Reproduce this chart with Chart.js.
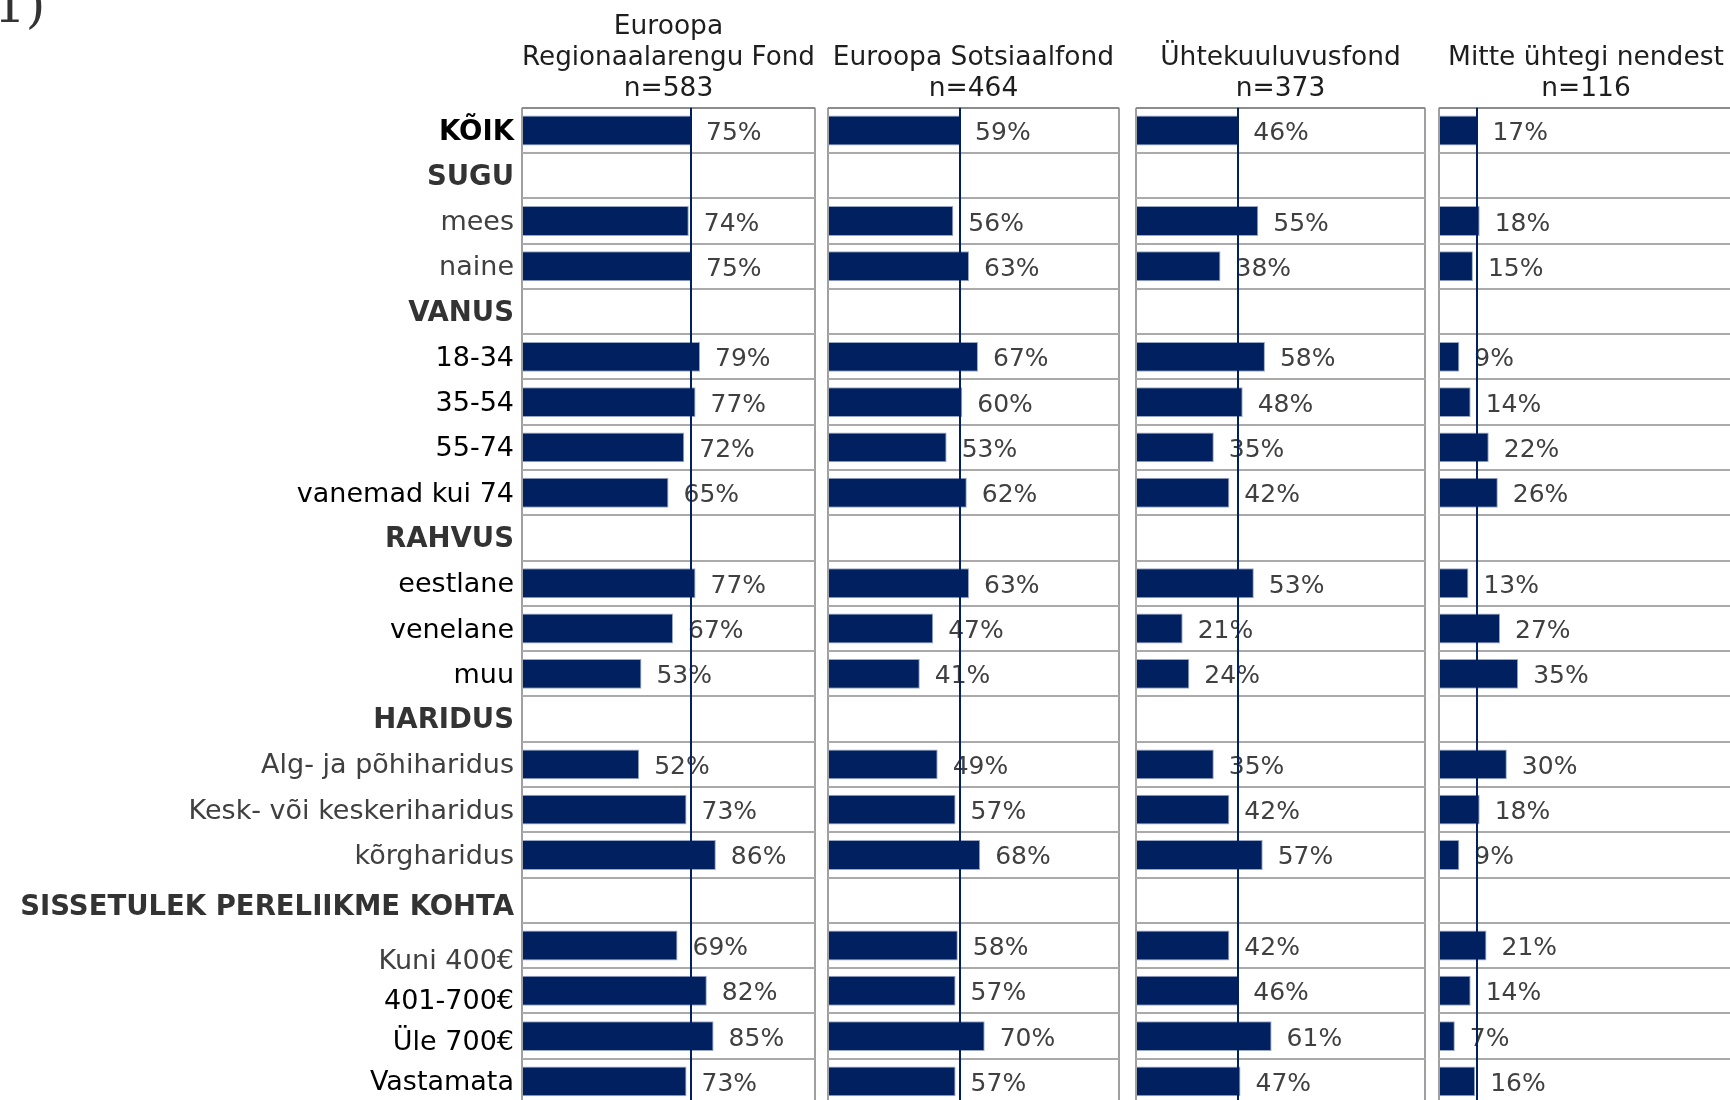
<!DOCTYPE html>
<html>
<head>
<meta charset="utf-8">
<script src="https://cdn.jsdelivr.net/npm/chart.js@4.4.0/dist/chart.umd.min.js"></script>
<style>
    html, body {margin: 0; padding: 0; background: #fff; overflow: hidden; width: 1730px; height: 1100px;}
    canvas {position: absolute; top: 0;}
    #corner {position: absolute; left: -6px; top: -20px; font-family: 'DejaVu Serif', serif; font-size: 50px; line-height: 50px; color: #333;}
</style>
</head>
<body>
<div id="corner">1)</div>
<canvas id="panel-0" width="817" height="1104" style="left:0px"></canvas>
<canvas id="panel-1" width="295" height="1104" style="left:826px"></canvas>
<canvas id="panel-2" width="293" height="1104" style="left:1134px"></canvas>
<canvas id="panel-3" width="298" height="1104" style="left:1437px"></canvas>
<script>
const rowLabels = ['KÕIK', 'SUGU', 'mees', 'naine', 'VANUS', '18-34', '35-54', '55-74', 'vanemad kui 74',
    'RAHVUS', 'eestlane', 'venelane', 'muu', 'HARIDUS', 'Alg- ja põhiharidus', 'Kesk- või keskeriharidus',
    'kõrgharidus', 'SISSETULEK PERELIIKME KOHTA', 'Kuni 400€', '401-700€', 'Üle 700€', 'Vastamata'];
const groupLabels = ['SUGU', 'VANUS', 'RAHVUS', 'HARIDUS', 'SISSETULEK PERELIIKME KOHTA'];

const fundTitles = [
    ['Euroopa', 'Regionaalarengu Fond', 'n=583'],
    ['', 'Euroopa Sotsiaalfond', 'n=464'],
    ['', 'Ühtekuuluvusfond', 'n=373'],
    ['', 'Mitte ühtegi nendest', 'n=116']
];

const regionalFund = [75, null, 74, 75, null, 79, 77, 72, 65, null, 77, 67, 53, null, 52, 73, 86, null, 69, 82, 85, 73];
const socialFund = [59, null, 56, 63, null, 67, 60, 53, 62, null, 63, 47, 41, null, 49, 57, 68, null, 58, 57, 70, 57];
const cohesionFund = [46, null, 55, 38, null, 58, 48, 35, 42, null, 53, 21, 24, null, 35, 42, 57, null, 42, 46, 61, 47];
const noneOfThem = [17, null, 18, 15, null, 9, 14, 22, 26, null, 13, 27, 35, null, 30, 18, 9, null, 21, 14, 7, 16];

const series = [regionalFund, socialFund, cohesionFund, noneOfThem];

// styling
const NAVY = '#002060';
const FONT = '"DejaVu Sans", Verdana, sans-serif';
const grayLabels = ['mees', 'naine', 'Alg- ja põhiharidus', 'Kesk- või keskeriharidus', 'kõrgharidus', 'Kuni 400€'];
// the income labels sit a little low in the original
const labelNudge = {'SISSETULEK PERELIIKME KOHTA': 6, 'Kuni 400€': 14, '401-700€': 9, 'Üle 700€': 5};

const overlay = {
    id: 'overlay',
    afterDatasetsDraw(chart, args, opts) {
        const {ctx, chartArea, scales: {x, y}} = chart;
        const values = chart.data.datasets[0].data;
        ctx.save();

        // value labels
        ctx.font = '25px ' + FONT;
        ctx.fillStyle = '#404040';
        ctx.textAlign = 'left';
        ctx.textBaseline = 'middle';
        chart.getDatasetMeta(0).data.forEach((bar, i) => {
            if (values[i] == null) return;
            ctx.fillText(values[i] + '%', bar.x + 15, bar.y + 3);
        });

        // average line (KÕIK value)
        const xr = Math.round(x.getPixelForValue(values[0]));
        ctx.strokeStyle = NAVY;
        ctx.lineWidth = 2;
        ctx.beginPath();
        ctx.moveTo(xr, chartArea.top);
        ctx.lineTo(xr, chartArea.bottom);
        ctx.stroke();

        // row labels, only on the first panel
        if (opts.rowLabels) {
            ctx.textAlign = 'right';
            chart.data.labels.forEach((lab, i) => {
                const isGroup = groupLabels.includes(lab);
                const bold = isGroup || i === 0;
                ctx.font = (bold ? 'bold 27.5px ' : '27px ') + FONT;
                ctx.fillStyle = i === 0 ? '#000' : isGroup ? '#333' : grayLabels.includes(lab) ? '#404040' : '#000';
                const yy = y.getPixelForValue(i) + 2 + (labelNudge[lab] || 0);
                ctx.fillText(lab, chartArea.left - 8, yy);
            });
        }
        ctx.restore();
    }
};

function makePanel(idx) {
    const first = idx === 0;
    const ctx = document.getElementById('panel-' + idx).getContext('2d');
    return new Chart(ctx, {
        type: 'bar',
        data: {
            labels: rowLabels,
            datasets: [{
                data: series[idx],
                backgroundColor: NAVY,
                borderColor: '#9aa8c8',
                borderWidth: 1,
                barPercentage: 0.66,
                categoryPercentage: 1.0
            }]
        },
        options: {
            indexAxis: 'y',
            responsive: false,
            animation: false,
            layout: {padding: {left: first ? 0 : 2, right: 2, top: 0, bottom: 0}},
            scales: {
                x: {
                    min: 0,
                    max: 130,
                    ticks: {display: false, stepSize: 130},
                    grid: {color: '#a0a0a0', lineWidth: 2, drawTicks: false},
                    border: {display: false}
                },
                y: {
                    ticks: {display: false},
                    grid: {
                        color: c => c.index === 0 ? '#8c8c8c' : '#aaaaaa',
                        lineWidth: 2,
                        drawTicks: false,
                        offset: true
                    },
                    border: {display: false},
                    afterFit: s => { s.width = first ? 522 : 0; }
                }
            },
            plugins: {
                legend: {display: false},
                tooltip: {enabled: false},
                title: {
                    display: true,
                    fullSize: false,
                    text: fundTitles[idx],
                    color: '#1e1e1e',
                    font: {family: FONT, size: 26.5, weight: 'normal', lineHeight: 1.18},
                    padding: {top: 11, bottom: 3}
                },
                overlay: {rowLabels: first}
            }
        },
        plugins: [overlay]
    });
}

const charts = [0, 1, 2, 3].map(makePanel);
</script>
</body>
</html>
